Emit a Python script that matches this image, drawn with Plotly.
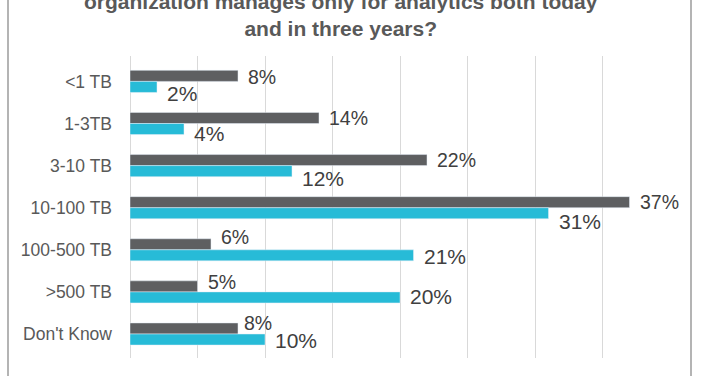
import plotly.graph_objects as go

categories = ["<1 TB", "1-3TB", "3-10 TB", "10-100 TB", "100-500 TB", ">500 TB", "Don't Know"]
today = [8, 14, 22, 37, 6, 5, 8]
three_years = [2, 4, 12, 31, 21, 20, 10]
tick_vals = [0, 5, 10, 15, 20, 25, 30, 35, 40]

# label placement tweaks (pixels), as the labels sit in the original
today_label_dy = [4.2, 5.2, 5.2, 5.7, 12.5, 9.7, 11]
today_label_dx = [8, 8, 8, 8, 8, 8, 4]
three_label_dy = [-11.9, -9.7, -13.1, -14.1, -6.6, -4.3, -6.7]
three_label_dx = [8, 8, 8, 8, 8, 8, 8]

GRAY = "#5E5F61"
CYAN = "#27BBD7"
FONT = "Arial, Liberation Sans, sans-serif"

W, H = 701, 376
L, R, T, B = 130, W - 670, 56, H - 358
PW, PH = W - L - R, H - T - B

fig = go.Figure()
fig.add_trace(go.Bar(y=categories, x=today, orientation="h", marker_color=GRAY,
                     name="Today", hoverinfo="x+y"))
fig.add_trace(go.Bar(y=categories, x=three_years, orientation="h", marker_color=CYAN,
                     name="In three years", hoverinfo="x+y"))

ann = []
for c, v, dy, dx in zip(categories, today, today_label_dy, today_label_dx):
    ann.append(dict(x=v, y=c, xref="x", yref="y", text=f"{v}%", showarrow=False,
                    xanchor="left", yanchor="middle", xshift=dx, yshift=dy,
                    font=dict(family=FONT, size=19.5, color="#404040")))
for c, v, dy, dx in zip(categories, three_years, three_label_dy, three_label_dx):
    ann.append(dict(x=v, y=c, xref="x", yref="y", text=f"{v}%", showarrow=False,
                    xanchor="left", yanchor="middle", xshift=dx, yshift=dy,
                    font=dict(family=FONT, size=21, color="#404040")))

# title (first line partially cut off at the top, as in the original)
ann.append(dict(x=(341 - L) / PW, y=1 + (T - 42) / PH, xref="paper", yref="paper",
                xanchor="center", yanchor="bottom", showarrow=False,
                text="<b>organization manages only for analytics both today<br>and in three years?</b>",
                font=dict(family="Liberation Sans Narrow, Arial Narrow, " + FONT, size=21, color="#595959")))

fig.update_layout(
    width=W, height=H,
    margin=dict(l=L, r=R, t=T, b=B, pad=0, autoexpand=False),
    paper_bgcolor="white", plot_bgcolor="white",
    barmode="group", bargap=0.475, bargroupgap=0,
    showlegend=False,
    annotations=ann,
    font=dict(family=FONT),
    shapes=[
        dict(type="line", xref="paper", yref="paper", x0=(8 - L) / PW, x1=(8 - L) / PW,
             y0=-1, y1=2, line=dict(color="#8C8C8C", width=1.3)),
        dict(type="line", xref="paper", yref="paper", x0=(691 - L) / PW, x1=(691 - L) / PW,
             y0=-1, y1=2, line=dict(color="#8C8C8C", width=1.3)),
    ],
)
fig.update_xaxes(range=[0, 40], tickvals=tick_vals, showticklabels=False,
                 showgrid=True, gridcolor="#D9D9D9", gridwidth=1, automargin=False,
                 zeroline=True, zerolinecolor="#D9D9D9", zerolinewidth=1, showline=False)
fig.update_yaxes(autorange="reversed", showgrid=False, showline=False, ticks="",
                 ticklabelstandoff=17, automargin=False,
                 tickfont=dict(family=FONT, size=17.5, color="#595959"))

fig.write_html("out.html", config={"displayModeBar": False},
               post_script="document.body.style.margin='0px';document.body.style.overflow='hidden';")
